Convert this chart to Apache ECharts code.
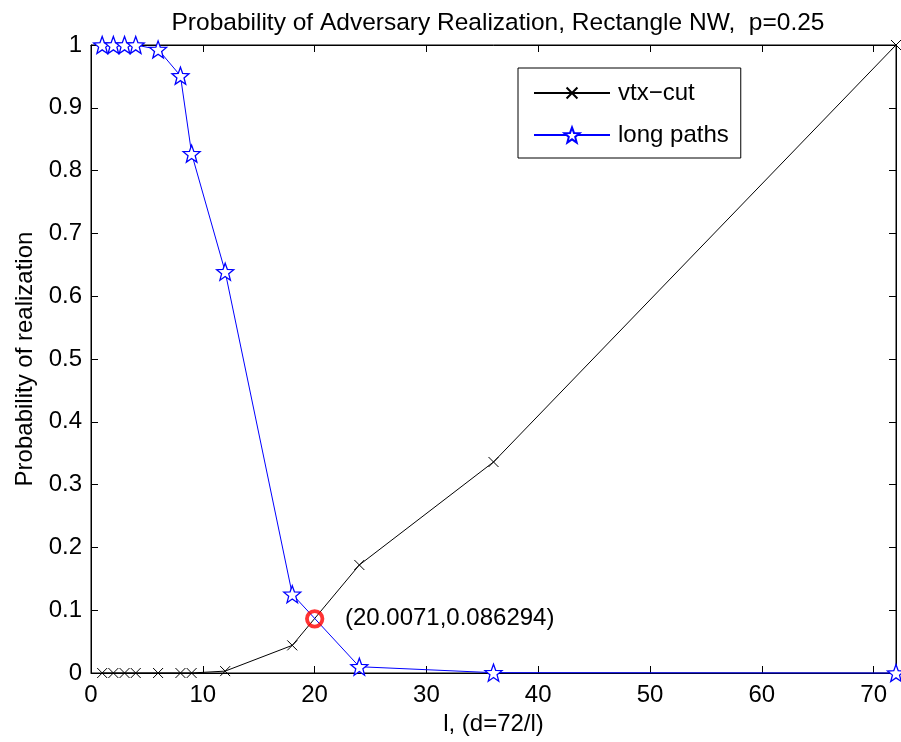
<!DOCTYPE html>
<html>
<head>
<meta charset="utf-8">
<script src="https://cdn.jsdelivr.net/npm/echarts@6/dist/echarts.min.js"></script>
<style>html,body{margin:0;padding:0;background:#fff}#c{width:901px;height:742px}</style>
</head>
<body>
<div id="c"></div>
<script>
// Data
const xValues = [1, 2, 3, 4, 6, 8, 9, 12, 18, 24, 36, 72];
const vtxCut = [0, 0, 0, 0, 0, 0, 0, 0.003, 0.044, 0.172, 0.336, 1.0];
const longPaths = [1, 1, 1, 1, 0.993, 0.951, 0.827, 0.639, 0.1255, 0.010, 0.0005, 0];
const intersection = [20.0071, 0.086294];
const intersectionLabel = '(20.0071,0.086294)';
const seriesNames = ['vtx\u2212cut', 'long paths'];
const titleText = 'Probability of Adversary Realization, Rectangle NW,  p=0.25';
const xLabel = 'l, (d=72/l)';
const yLabel = 'Probability of realization';

function starPath() {
  let d = '';
  for (let i = 0; i < 10; i++) {
    const r = i % 2 === 0 ? 1 : 0.42;
    const a = -Math.PI / 2 + i * Math.PI / 5;
    const x = (r * Math.cos(a)).toFixed(4), y = (r * Math.sin(a)).toFixed(4);
    d += (i === 0 ? 'M' : 'L') + x + ',' + y;
  }
  return 'path://' + d + 'Z';
}
const STAR = starPath();
// cross with invisible margin so it is drawn smaller than its symbol box
const CROSS = 'path://M-2,-2M0,0L10,10M10,0L0,10M12,12';

const font = 'Liberation Sans, Arial, Helvetica, sans-serif';
const FS = 24;
const chart = echarts.init(document.getElementById('c'), null, {renderer: 'canvas'});
const pts = (ys) => xValues.map((x, i) => [x, ys[i]]);

const gridPos = {left: 91, top: 45, right: 5, bottom: 69};
chart.setOption({
  animation: false,
  backgroundColor: '#fff',
  title: {
    text: titleText, left: 493, top: 6, textAlign: 'center',
    textStyle: {fontFamily: font, fontSize: 24.5, fontWeight: 'normal', color: '#000'}
  },
  legend: {
    data: seriesNames,
    orient: 'vertical', left: 518, top: 68,
    itemWidth: 76, itemHeight: 19, itemGap: 18,
    padding: [13, 12, 11, 15],
    borderColor: '#000', borderWidth: 1, backgroundColor: '#fff',
    textStyle: {fontFamily: font, fontSize: FS, color: '#000', padding: [0, 0, 0, 3]}
  },
  grid: Object.assign({show: true, borderColor: '#000', borderWidth: 1, backgroundColor: 'transparent'}, gridPos),
  xAxis: [{
    type: 'value', min: 0, max: 72, interval: 10,
    name: xLabel, nameLocation: 'middle', nameGap: 39,
    nameTextStyle: {fontFamily: font, fontSize: FS, color: '#000'},
    axisLine: {show: true, onZero: false, lineStyle: {color: '#000', width: 1}},
    axisTick: {show: true, inside: true, length: 7, lineStyle: {color: '#000'}},
    axisLabel: {fontFamily: font, fontSize: FS, color: '#000', margin: 10, showMaxLabel: false,
      formatter: v => (v % 10 === 0 ? String(v) : '')},
    splitLine: {show: false}
  }, {
    type: 'value', min: 0, max: 72, interval: 10, position: 'top',
    axisLine: {show: true, onZero: false, lineStyle: {color: '#000'}},
    axisTick: {show: true, inside: true, length: 7, lineStyle: {color: '#000'}},
    axisLabel: {show: false}, splitLine: {show: false}
  }],
  yAxis: [{
    type: 'value', min: 0, max: 1, interval: 0.1,
    name: yLabel, nameLocation: 'middle', nameGap: 53,
    nameTextStyle: {fontFamily: font, fontSize: FS, color: '#000'},
    axisLine: {show: true, onZero: false, lineStyle: {color: '#000'}},
    axisTick: {show: true, inside: true, length: 7, lineStyle: {color: '#000'}},
    axisLabel: {fontFamily: font, fontSize: FS, color: '#000', margin: 9},
    splitLine: {show: false}
  }, {
    type: 'value', min: 0, max: 1, interval: 0.1, position: 'right',
    axisLine: {show: true, onZero: false, lineStyle: {color: '#000'}},
    axisTick: {show: true, inside: true, length: 7, lineStyle: {color: '#000'}},
    axisLabel: {show: false}, splitLine: {show: false}
  }],
  series: [{
    name: seriesNames[0], type: 'line', data: pts(vtxCut), clip: false,
    symbol: CROSS, symbolSize: 14, showAllSymbol: true,
    lineStyle: {color: '#000', width: 1},
    itemStyle: {color: 'none', borderColor: '#000', borderWidth: 1}
  }, {
    name: seriesNames[1], type: 'line', data: pts(longPaths), clip: false,
    symbol: STAR, symbolSize: 17, showAllSymbol: true,
    lineStyle: {color: '#0000ff', width: 1},
    itemStyle: {color: '#fff', borderColor: '#0000ff', borderWidth: 1.3}
  }, {
    name: 'intersection', type: 'scatter', data: [intersection], clip: false,
    symbol: 'circle', symbolSize: 15.5, z: 5,
    itemStyle: {color: 'none', borderColor: '#ff0000', borderWidth: 3.8},
    label: {show: true, position: 'right', distance: 20, formatter: intersectionLabel,
      fontFamily: font, fontSize: FS, color: '#000', opacity: 1, textBorderWidth: 0}
  }]
});
</script>
</body>
</html>
